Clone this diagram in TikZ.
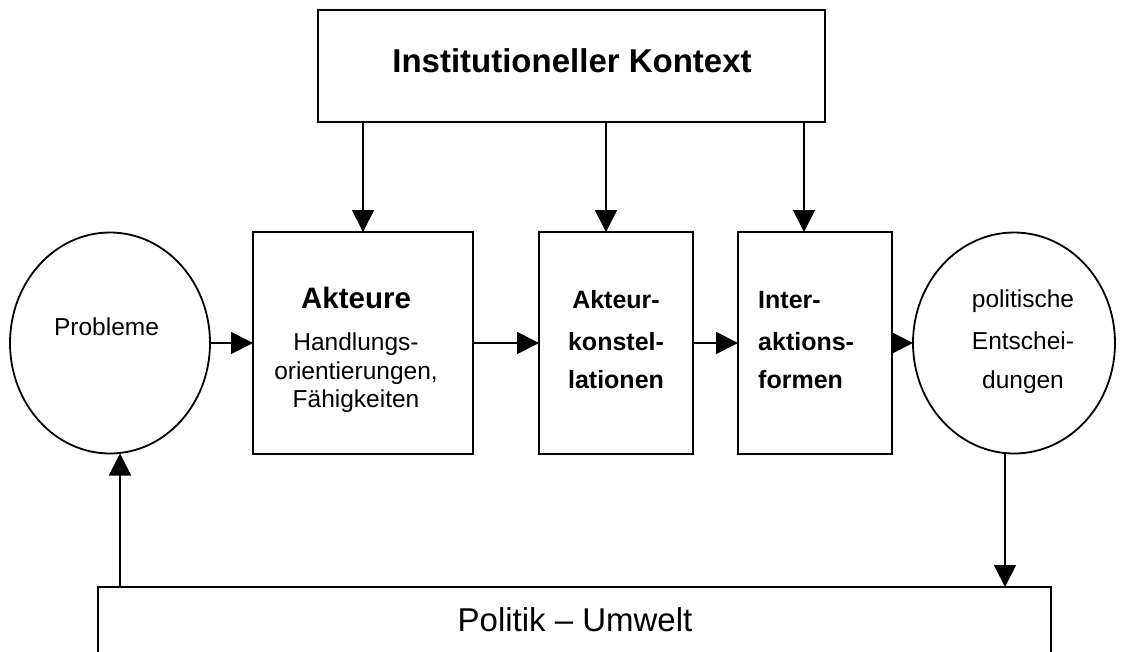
\documentclass[tikz,border=0pt]{standalone}
\usepackage{fontspec}
\setmainfont{Liberation Sans}
\usetikzlibrary{arrows.meta,shapes.geometric}
\begin{document}
\begin{tikzpicture}[x=1pt,y=-1pt,
  lw/.style={line width=1.8pt},
  box/.style={draw,lw,rectangle,inner sep=0pt,outer sep=0pt},
  oval/.style={draw,lw,ellipse,inner sep=0pt,outer sep=0pt},
  arr/.style={lw,-{Triangle[length=22pt,width=22pt]}},
  txt/.style={inner sep=0pt,anchor=base,font=\fontsize{24.5}{40}\selectfont},
  btxt/.style={txt,font=\fontsize{25}{40}\selectfont\bfseries},
]
\clip (0,0) rectangle (1126,651);
\fill[white] (0,0) rectangle (1126,651);

% shapes
\node[box,minimum width=507pt,minimum height=112pt] (top) at (571.5,66) {};
\node[box,minimum width=220pt,minimum height=222pt] (akt) at (363,343) {};
\node[box,minimum width=154pt,minimum height=222pt] (kon) at (616,343) {};
\node[box,minimum width=154pt,minimum height=222pt] (int) at (815,343) {};
\node[box,minimum width=953pt,minimum height=133pt] (bot) at (574.5,653.5) {};
\node[oval,minimum width=200pt,minimum height=221pt] (prob) at (110,343) {};
\node[oval,minimum width=202pt,minimum height=221pt] (pol) at (1014,343) {};

% texts
\node[txt,font=\fontsize{33}{40}\selectfont\bfseries] (ttop) at (572,72) {Institutioneller Kontext};
\node[txt] (tprob) at (106.5,335) {Probleme};
\node[txt,font=\fontsize{29.5}{40}\selectfont\bfseries] (takt1) at (356,308) {Akteure};
\node[txt] (takt2) at (356,350) {Handlungs-};
\node[txt] (takt3) at (356,379) {orientierungen,};
\node[txt] (takt4) at (356,407) {Fähigkeiten};
\node[btxt] (tkon1) at (616,308) {Akteur-};
\node[btxt] (tkon2) at (616,350) {konstel-};
\node[btxt] (tkon3) at (616,388) {lationen};
\node[btxt,anchor=base west] (tint1) at (758,308) {Inter-};
\node[btxt,anchor=base west] (tint2) at (758,350) {aktions-};
\node[btxt,anchor=base west] (tint3) at (758,388) {formen};
\node[txt] (tpol1) at (1023,307) {politische};
\node[txt] (tpol2) at (1023,349) {Entschei-};
\node[txt] (tpol3) at (1023,388) {dungen};
\node[txt,font=\fontsize{33}{40}\selectfont] (tbot) at (575,631) {Politik -- Umwelt};

% connectors
\coordinate (c1) at (363,0);
\coordinate (c2) at (606,0);
\coordinate (c3) at (804,0);
\draw[arr] (top.south -| c1) -- (akt.north -| c1);
\draw[arr] (top.south -| c2) -- (kon.north -| c2);
\draw[arr] (top.south -| c3) -- (int.north -| c3);
\draw[arr] (prob.east) -- (akt.west);
\draw[arr] (akt.east) -- (kon.west);
\draw[arr] (kon.east) -- (int.west);
\draw[arr] (int.east) -- (pol.west);
\coordinate (b1) at (120,0);
\coordinate (b2) at (1005,0);
\draw[arr] (bot.north -| b1) -- (prob.south -| b1);
\draw[arr] (pol.south -| b2) -- (bot.north -| b2);
\end{tikzpicture}
\end{document}
